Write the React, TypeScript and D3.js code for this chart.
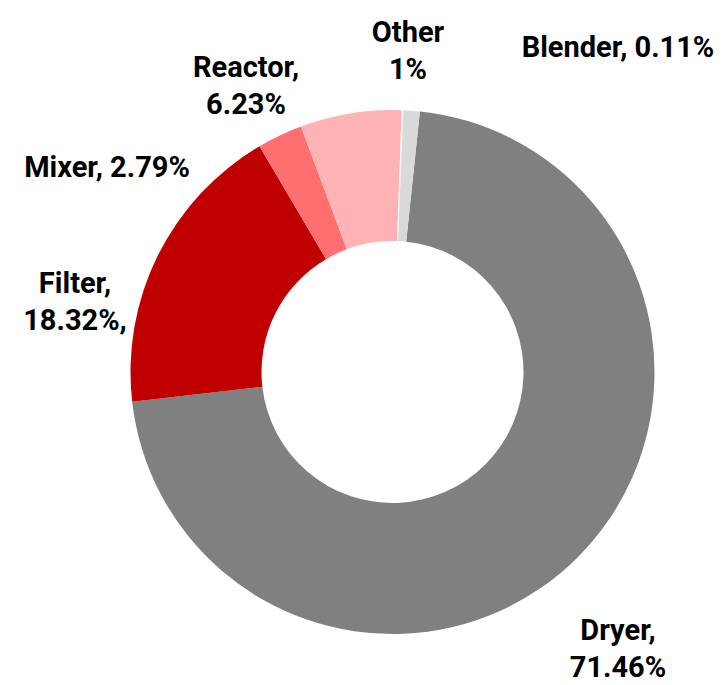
import React, { useEffect, useRef } from "react";
import * as d3 from "d3";

const categories = ["Dryer", "Filter", "Mixer", "Reactor", "Blender", "Other"];
const shares = [71.46, 18.32, 2.79, 6.23, 0.11, 1];
const colors = ["#808080", "#C00000", "#FF6F6F", "#FFB3B5", "#F2F2F2", "#D9D9D9"];
// label text lines, as typed on the chart
const labelLines = [
  ["Dryer,", "71.46%"],
  ["Filter,", "18.32%,"],
  ["Mixer, 2.79%"],
  ["Reactor,", "6.23%"],
  ["Blender, 0.11%"],
  ["Other", "1%"],
];
// label anchor (centre x, first baseline y)
const labelPos = [
  [618, 640],
  [75, 293],
  [107, 177],
  [246, 77],
  [618, 57],
  [408, 42],
];

const App: React.FC = () => {
  const svgRef = useRef<SVGSVGElement | null>(null);

  useEffect(() => {
    const svg = d3.select(svgRef.current);
    svg.selectAll("*").remove();

    const width = 725;
    const height = 685;
    const cx = 392.5;
    const cy = 372;
    const outer = 262;
    const inner = 131;
    const start = (6 * Math.PI) / 180;

    const pie = d3
      .pie<number>()
      .sort(null)
      .startAngle(start)
      .endAngle(start + 2 * Math.PI);

    const arc = d3.arc<d3.PieArcDatum<number>>().innerRadius(inner).outerRadius(outer);

    const g = svg.append("g").attr("transform", `translate(${cx},${cy})`);

    g.selectAll("path")
      .data(pie(shares))
      .join("path")
      .attr("d", arc)
      .attr("fill", (_, i) => colors[i]);

    // data labels
    const lineHeight = 37;
    categories.forEach((c, i) => {
      const t = svg
        .append("text")
        .attr("text-anchor", "middle")
        .attr("font-family", "Roboto, 'Open Sans', sans-serif")
        .attr("font-weight", 700)
        .attr("font-size", 29)
        .attr("fill", "#000");
      labelLines[i].forEach((line, j) => {
        t.append("tspan")
          .attr("x", labelPos[i][0])
          .attr("y", labelPos[i][1] + j * lineHeight)
          .text(line);
      });
    });

    svg.attr("width", width).attr("height", height);
  }, []);

  return (
    <svg
      ref={svgRef}
      style={{ position: "absolute", left: 0, top: 0, background: "#fff" }}
    ></svg>
  );
};

export default App;
